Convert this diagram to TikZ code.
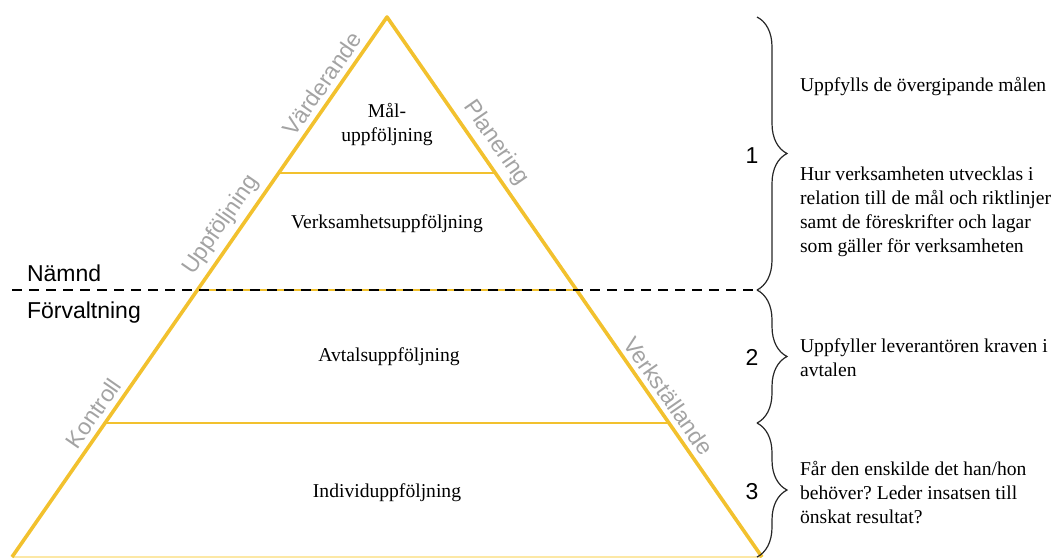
\documentclass[tikz,border=0pt]{standalone}
\usepackage{fontspec}
\setmainfont{Liberation Serif}
\setsansfont{Liberation Sans}
\usetikzlibrary{decorations.pathreplacing}
\definecolor{pyrgold}{HTML}{F2C12E}
\definecolor{pyrpale}{HTML}{FCE8A6}
\definecolor{sidegray}{HTML}{A3A3A3}
\frenchspacing

\begin{document}
\begin{tikzpicture}[x=0.5pt,y=-0.5pt]
	\tikzset{edge/.style={draw=pyrgold,line width=1.8pt,line join=round}}
	\tikzset{tier/.style={draw=pyrgold,line width=1.3pt}}
	\tikzset{divider/.style={draw=black,line width=1.1pt,dash pattern=on 5pt off 3.5pt}}
	\tikzset{levtext/.style={font=\fontsize{9.8}{12}\selectfont,align=center}}
	\tikzset{notetext/.style={font=\fontsize{9.8}{12}\selectfont,align=left,anchor=west}}
	\tikzset{sidetext/.style={font=\sffamily\fontsize{11.5}{13}\selectfont,text=sidegray,sloped,above,inner sep=2.5pt}}
	\tikzset{bodytext/.style={font=\sffamily\fontsize{11.5}{13}\selectfont}}
	\tikzset{bracket/.style={draw=black!85,line width=0.6pt,decorate,decoration={brace,amplitude=15pt}}}
	\useasboundingbox (0,0) rectangle (1058,559);
	% pyramid corners and tiers
	\coordinate (apex) at (387,17);
	\coordinate (bl) at (12,557);
	\coordinate (br) at (762,557);
	\coordinate (t1l) at (278.7,173);
	\coordinate (t1r) at (495.3,173);
	\coordinate (t2l) at (197.4,290);
	\coordinate (t2r) at (576.6,290);
	\coordinate (t3l) at (105.1,423);
	\coordinate (t3r) at (668.9,423);
	\draw[tier] (t1l) -- (t1r);
	\draw[tier] (t2l) -- (t2r);
	\draw[tier] (t3l) -- (t3r);
	\draw[draw=pyrpale,line width=0.8pt] (bl) -- (br);
	\draw[edge] (bl) -- node[sidetext,pos=0.25] {Kontroll} node[sidetext,pos=0.596] {Uppföljning} node[sidetext,pos=0.86] {Värderande} (apex)
		-- node[sidetext,pos=0.252] {Planering} node[sidetext,pos=0.718] {Verkställande} (br);
	% dashed split
	\coordinate (d0) at (12,290);
	\coordinate (d1) at (760,290);
	\draw[divider] (d0) -- (d1);
	\node[bodytext,anchor=west] (namnd) at (20,273) {Nämnd};
	\node[bodytext,anchor=west] (forv) at (20,313) {Förvaltning};
	% level names
	\node[levtext] (mal) at (387,125) {Mål-\\uppföljning};
	\node[levtext] (verks) at (387,224) {Verksamhetsuppföljning};
	\node[levtext] (avtal) at (389,357) {Avtalsuppföljning};
	\node[levtext] (indiv) at (387,493) {Individuppföljning};
	% braces and notes
	\coordinate (b0) at (757,17);
	\coordinate (b1) at (757,290);
	\coordinate (b2) at (757,423);
	\coordinate (b3) at (757,557);
	\draw[bracket] (b0) -- (b1);
	\draw[bracket] (b1) -- (b2);
	\draw[bracket] (b2) -- (b3);
	\node[bodytext] (n1) at (752,156) {1};
	\node[bodytext] (n2) at (752,357) {2};
	\node[bodytext] (n3) at (752,492) {3};
	\node[notetext] (q1) at (793,87) {Uppfylls de övergipande målen};
	\node[notetext] (q2) at (793,212) {Hur verksamheten utvecklas i\\relation till de mål och riktlinjer\\samt de föreskrifter och lagar\\som gäller för verksamheten};
	\node[notetext] (q3) at (793,358) {Uppfyller leverantören kraven i\\avtalen};
	\node[notetext] (q4) at (793,493) {Får den enskilde det han/hon\\behöver? Leder insatsen till\\önskat resultat?};
\end{tikzpicture}
\end{document}
